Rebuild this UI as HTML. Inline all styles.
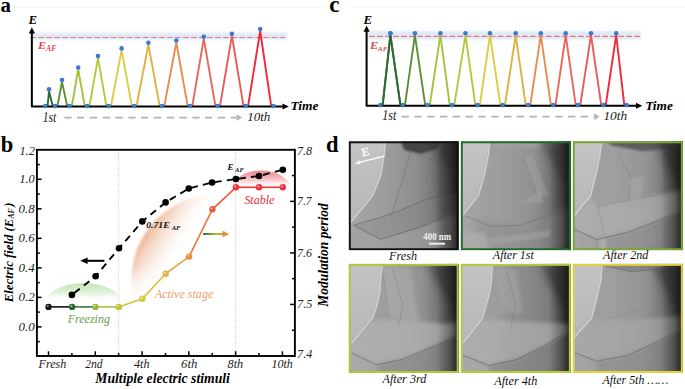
<!DOCTYPE html>
<html><head><meta charset="utf-8"><style>
html,body{margin:0;padding:0;background:#fff;width:685px;height:389px;overflow:hidden}
svg{display:block}
</style></head><body>
<svg width="685" height="389" viewBox="0 0 685 389">
<defs>
<filter id="blur1" x="-5%" y="-60%" width="110%" height="220%"><feGaussianBlur stdDeviation="1.3"/></filter>
<linearGradient id="gGreen" x1="0" y1="0" x2="0" y2="1"><stop offset="0" stop-color="#c6e3b6"/><stop offset="0.2" stop-color="#daeed0" stop-opacity="0.85"/><stop offset="0.42" stop-color="#fff" stop-opacity="0"/></linearGradient>
<linearGradient id="gRed" x1="0" y1="0" x2="0" y2="1"><stop offset="0" stop-color="#ea838c"/><stop offset="0.22" stop-color="#f2b3b8" stop-opacity="0.85"/><stop offset="0.47" stop-color="#fff" stop-opacity="0"/></linearGradient>
<linearGradient id="gOrangeL" gradientUnits="userSpaceOnUse" x1="144.2" y1="234.5" x2="182.5" y2="258.4"><stop offset="0" stop-color="#ecb597"/><stop offset="0.3" stop-color="#f2cbb3" stop-opacity="0.65"/><stop offset="0.85" stop-color="#fbeee6" stop-opacity="0"/></linearGradient>
<filter id="blOr" x="-10%" y="-10%" width="120%" height="120%"><feGaussianBlur stdDeviation="1.0"/></filter>
<linearGradient id="gOrMask" gradientUnits="userSpaceOnUse" x1="0" y1="266" x2="0" y2="306"><stop offset="0" stop-color="#fff"/><stop offset="1" stop-color="#000"/></linearGradient>
<mask id="mOr" maskUnits="userSpaceOnUse" x="100" y="150" width="250" height="220"><rect x="100" y="150" width="250" height="220" fill="url(#gOrMask)"/></mask>
<linearGradient id="gArrow" gradientUnits="userSpaceOnUse" x1="203" y1="0" x2="229" y2="0"><stop offset="0" stop-color="#2e6b34"/><stop offset="0.5" stop-color="#b8b83c"/><stop offset="1" stop-color="#e88a3a"/></linearGradient>
<linearGradient id="temR" x1="0" y1="0" x2="1" y2="0"><stop offset="0.8" stop-color="#101010" stop-opacity="0"/><stop offset="0.92" stop-color="#101010" stop-opacity="0.3"/><stop offset="1" stop-color="#101010" stop-opacity="0.75"/></linearGradient>
<linearGradient id="temBase" x1="0" y1="0" x2="1" y2="0"><stop offset="0" stop-color="#a6a6a6"/><stop offset="0.35" stop-color="#9c9c9c"/><stop offset="0.6" stop-color="#8e8e8e"/><stop offset="0.8" stop-color="#787878"/><stop offset="0.9" stop-color="#585858"/><stop offset="1" stop-color="#2a2a2a"/></linearGradient>
<linearGradient id="temL" x1="0" y1="0" x2="0" y2="1"><stop offset="0" stop-color="#c4c4c4"/><stop offset="1" stop-color="#b6b6b6"/></linearGradient>
<filter id="bl1" x="-20%" y="-20%" width="140%" height="140%"><feGaussianBlur stdDeviation="1"/></filter>
<filter id="bl2" x="-20%" y="-20%" width="140%" height="140%"><feGaussianBlur stdDeviation="2"/></filter>
<filter id="bl3" x="-30%" y="-30%" width="160%" height="160%"><feGaussianBlur stdDeviation="4"/></filter>
<filter id="bl06" x="-10%" y="-10%" width="120%" height="120%"><feGaussianBlur stdDeviation="0.6"/></filter>
<filter id="bl08" x="-10%" y="-10%" width="120%" height="120%"><feGaussianBlur stdDeviation="0.8"/></filter>
</defs>
<line x1="12" y1="7.3" x2="322" y2="7.3" stroke="#f1f1f1" stroke-width="1"/>
<line x1="351" y1="7" x2="685" y2="7" stroke="#f1f1f1" stroke-width="1"/>
<rect x="31.85" y="32.4" width="255.15" height="7.399999999999999" fill="#e2e9f6" filter="url(#blur1)"/>
<line x1="30.2" y1="37.5" x2="285" y2="37.5" stroke="#e77a7a" stroke-width="1.2" stroke-dasharray="5.8,2.24"/>
<polyline points="47.5,106.6 49,91.3 52.9,106.6" fill="none" stroke="#2e6b34" stroke-width="1.9" stroke-linejoin="miter" stroke-miterlimit="3"/>
<polyline points="57.300000000000004,106.6 62,82 67.3,106.6" fill="none" stroke="#5e8e36" stroke-width="1.9" stroke-linejoin="miter" stroke-miterlimit="3"/>
<polyline points="71.7,106.6 78.2,69.5 84.89999999999999,106.6" fill="none" stroke="#a3c23c" stroke-width="1.9" stroke-linejoin="miter" stroke-miterlimit="3"/>
<polyline points="89.3,106.6 98,58.1 106.5,106.6" fill="none" stroke="#b6c73c" stroke-width="1.9" stroke-linejoin="miter" stroke-miterlimit="3"/>
<polyline points="110.9,106.6 121.6,50.4 132.0,106.6" fill="none" stroke="#dacd44" stroke-width="1.9" stroke-linejoin="miter" stroke-miterlimit="3"/>
<polyline points="136.39999999999998,106.6 148.4,44.7 159.8,106.6" fill="none" stroke="#dfb23f" stroke-width="1.9" stroke-linejoin="miter" stroke-miterlimit="3"/>
<polyline points="164.2,106.6 176.3,42.5 187.8,106.6" fill="none" stroke="#e88c4e" stroke-width="1.9" stroke-linejoin="miter" stroke-miterlimit="3"/>
<polyline points="192.2,106.6 203.8,38.7 215.5,106.6" fill="none" stroke="#e8665a" stroke-width="1.9" stroke-linejoin="miter" stroke-miterlimit="3"/>
<polyline points="219.89999999999998,106.6 231.9,35.7 243.60000000000002,106.6" fill="none" stroke="#ea5a5c" stroke-width="1.9" stroke-linejoin="miter" stroke-miterlimit="3"/>
<polyline points="248.0,106.6 260.2,31 271.3,106.6" fill="none" stroke="#f0283a" stroke-width="1.9" stroke-linejoin="miter" stroke-miterlimit="3"/>
<path d="M31.85,32.3 L31.85,106.6 L283.8,106.6" fill="none" stroke="#000" stroke-width="2" stroke-linejoin="round"/>
<polygon points="28.75,33.5 34.95,33.5 31.85,27.3" fill="#000"/>
<polygon points="282.5,103.6 282.5,109.6 288.8,106.6" fill="#000"/>
<circle cx="49" cy="89.3" r="2.3" fill="#3a7bcc"/>
<circle cx="62" cy="80" r="2.3" fill="#3a7bcc"/>
<circle cx="78.2" cy="67.5" r="2.3" fill="#3a7bcc"/>
<circle cx="98" cy="56.1" r="2.3" fill="#3a7bcc"/>
<circle cx="121.6" cy="48.4" r="2.3" fill="#3a7bcc"/>
<circle cx="148.4" cy="42.7" r="2.3" fill="#3a7bcc"/>
<circle cx="176.3" cy="40.5" r="2.3" fill="#3a7bcc"/>
<circle cx="203.8" cy="36.7" r="2.3" fill="#3a7bcc"/>
<circle cx="231.9" cy="33.7" r="2.3" fill="#3a7bcc"/>
<circle cx="260.2" cy="29" r="2.3" fill="#3a7bcc"/>
<circle cx="45.3" cy="106.0" r="2.3" fill="#3a7bcc"/>
<circle cx="55.1" cy="106.0" r="2.3" fill="#3a7bcc"/>
<circle cx="69.5" cy="106.0" r="2.3" fill="#3a7bcc"/>
<circle cx="87.1" cy="106.0" r="2.3" fill="#3a7bcc"/>
<circle cx="108.7" cy="106.0" r="2.3" fill="#3a7bcc"/>
<circle cx="134.2" cy="106.0" r="2.3" fill="#3a7bcc"/>
<circle cx="162" cy="106.0" r="2.3" fill="#3a7bcc"/>
<circle cx="190" cy="106.0" r="2.3" fill="#3a7bcc"/>
<circle cx="217.7" cy="106.0" r="2.3" fill="#3a7bcc"/>
<circle cx="245.8" cy="106.0" r="2.3" fill="#3a7bcc"/>
<circle cx="273.5" cy="106.0" r="2.3" fill="#3a7bcc"/>
<line x1="64.2" y1="117.6" x2="239" y2="117.6" stroke="#b2b2b2" stroke-width="1.8" stroke-dasharray="7.3,5.5"/>
<polyline points="236.7,115.19999999999999 240.5,117.6 236.7,120.0" fill="none" stroke="#b2b2b2" stroke-width="1.6"/>
<rect x="366.6" y="31" width="274.4" height="8.600000000000001" fill="#e2e9f6" filter="url(#blur1)"/>
<line x1="369.0" y1="36.3" x2="640.5" y2="36.3" stroke="#e77a7a" stroke-width="1.2" stroke-dasharray="5.8,2.24"/>
<polyline points="382.59999999999997,105.7 390.4,35.2 400.5,105.7" fill="none" stroke="#2e6b34" stroke-width="1.9" stroke-linejoin="miter" stroke-miterlimit="3"/>
<polyline points="404.9,105.7 414.9,35.2 425.3,105.7" fill="none" stroke="#5e8e36" stroke-width="1.9" stroke-linejoin="miter" stroke-miterlimit="3"/>
<polyline points="429.7,105.7 440.4,35.2 449.8,105.7" fill="none" stroke="#a3c23c" stroke-width="1.9" stroke-linejoin="miter" stroke-miterlimit="3"/>
<polyline points="454.2,105.7 465.5,35.2 475.40000000000003,105.7" fill="none" stroke="#b6c73c" stroke-width="1.9" stroke-linejoin="miter" stroke-miterlimit="3"/>
<polyline points="479.8,105.7 490,35.2 500.5,105.7" fill="none" stroke="#dacd44" stroke-width="1.9" stroke-linejoin="miter" stroke-miterlimit="3"/>
<polyline points="504.9,105.7 515.7,35.2 525.8,105.7" fill="none" stroke="#dfb23f" stroke-width="1.9" stroke-linejoin="miter" stroke-miterlimit="3"/>
<polyline points="530.2,105.7 540.8,35.2 551.0,105.7" fill="none" stroke="#e88c4e" stroke-width="1.9" stroke-linejoin="miter" stroke-miterlimit="3"/>
<polyline points="555.4000000000001,105.7 565.7,35.2 575.8,105.7" fill="none" stroke="#e8665a" stroke-width="1.9" stroke-linejoin="miter" stroke-miterlimit="3"/>
<polyline points="580.2,105.7 591,35.2 601.3,105.7" fill="none" stroke="#ea5a5c" stroke-width="1.9" stroke-linejoin="miter" stroke-miterlimit="3"/>
<polyline points="605.7,105.7 616.2,35.2 624.4,105.7" fill="none" stroke="#f0283a" stroke-width="1.9" stroke-linejoin="miter" stroke-miterlimit="3"/>
<path d="M366.6,30.6 L366.6,105.7 L637.3,105.7" fill="none" stroke="#000" stroke-width="2" stroke-linejoin="round"/>
<polygon points="363.5,31.8 369.70000000000005,31.8 366.6,25.6" fill="#000"/>
<polygon points="636.0,102.7 636.0,108.7 642.3,105.7" fill="#000"/>
<circle cx="390.4" cy="33.2" r="2.3" fill="#3a7bcc"/>
<circle cx="414.9" cy="33.2" r="2.3" fill="#3a7bcc"/>
<circle cx="440.4" cy="33.2" r="2.3" fill="#3a7bcc"/>
<circle cx="465.5" cy="33.2" r="2.3" fill="#3a7bcc"/>
<circle cx="490" cy="33.2" r="2.3" fill="#3a7bcc"/>
<circle cx="515.7" cy="33.2" r="2.3" fill="#3a7bcc"/>
<circle cx="540.8" cy="33.2" r="2.3" fill="#3a7bcc"/>
<circle cx="565.7" cy="33.2" r="2.3" fill="#3a7bcc"/>
<circle cx="591" cy="33.2" r="2.3" fill="#3a7bcc"/>
<circle cx="616.2" cy="33.2" r="2.3" fill="#3a7bcc"/>
<circle cx="380.4" cy="105.10000000000001" r="2.3" fill="#3a7bcc"/>
<circle cx="402.7" cy="105.10000000000001" r="2.3" fill="#3a7bcc"/>
<circle cx="427.5" cy="105.10000000000001" r="2.3" fill="#3a7bcc"/>
<circle cx="452" cy="105.10000000000001" r="2.3" fill="#3a7bcc"/>
<circle cx="477.6" cy="105.10000000000001" r="2.3" fill="#3a7bcc"/>
<circle cx="502.7" cy="105.10000000000001" r="2.3" fill="#3a7bcc"/>
<circle cx="528" cy="105.10000000000001" r="2.3" fill="#3a7bcc"/>
<circle cx="553.2" cy="105.10000000000001" r="2.3" fill="#3a7bcc"/>
<circle cx="578" cy="105.10000000000001" r="2.3" fill="#3a7bcc"/>
<circle cx="603.5" cy="105.10000000000001" r="2.3" fill="#3a7bcc"/>
<circle cx="626.6" cy="105.10000000000001" r="2.3" fill="#3a7bcc"/>
<line x1="401.6" y1="116.7" x2="596.5" y2="116.7" stroke="#b2b2b2" stroke-width="1.8" stroke-dasharray="7.3,5.5"/>
<polyline points="594.2,114.3 598.0,116.7 594.2,119.10000000000001" fill="none" stroke="#b2b2b2" stroke-width="1.6"/>
<ellipse cx="83.5" cy="306" rx="40" ry="23" fill="url(#gGreen)"/>
<g mask="url(#mOr)"><circle cx="216.9" cy="279.8" r="85.5" fill="url(#gOrangeL)" filter="url(#blOr)"/></g>
<ellipse cx="261" cy="190" rx="30" ry="19.6" fill="url(#gRed)"/>
<line x1="118.67" y1="149.8" x2="118.67" y2="356.0" stroke="#bdbdbd" stroke-width="0.8" stroke-dasharray="1,1.3"/>
<line x1="235.62" y1="149.8" x2="235.62" y2="356.0" stroke="#bdbdbd" stroke-width="0.8" stroke-dasharray="1,1.3"/>
<rect x="36.9" y="149.8" width="258.0" height="206.2" fill="none" stroke="#000" stroke-width="1.9"/>
<line x1="36.9" y1="341.66" x2="39.80" y2="341.66" stroke="#000" stroke-width="1.5"/>
<line x1="36.9" y1="326.90" x2="41.60" y2="326.90" stroke="#000" stroke-width="1.5"/>
<line x1="36.9" y1="312.14" x2="39.80" y2="312.14" stroke="#000" stroke-width="1.5"/>
<line x1="36.9" y1="297.38" x2="41.60" y2="297.38" stroke="#000" stroke-width="1.5"/>
<line x1="36.9" y1="282.62" x2="39.80" y2="282.62" stroke="#000" stroke-width="1.5"/>
<line x1="36.9" y1="267.86" x2="41.60" y2="267.86" stroke="#000" stroke-width="1.5"/>
<line x1="36.9" y1="253.10" x2="39.80" y2="253.10" stroke="#000" stroke-width="1.5"/>
<line x1="36.9" y1="238.34" x2="41.60" y2="238.34" stroke="#000" stroke-width="1.5"/>
<line x1="36.9" y1="223.58" x2="39.80" y2="223.58" stroke="#000" stroke-width="1.5"/>
<line x1="36.9" y1="208.82" x2="41.60" y2="208.82" stroke="#000" stroke-width="1.5"/>
<line x1="36.9" y1="194.06" x2="39.80" y2="194.06" stroke="#000" stroke-width="1.5"/>
<line x1="36.9" y1="179.30" x2="41.60" y2="179.30" stroke="#000" stroke-width="1.5"/>
<line x1="36.9" y1="164.54" x2="39.80" y2="164.54" stroke="#000" stroke-width="1.5"/>
<line x1="294.9" y1="175.57" x2="292.00" y2="175.57" stroke="#000" stroke-width="1.5"/>
<line x1="294.9" y1="201.35" x2="290.20" y2="201.35" stroke="#000" stroke-width="1.5"/>
<line x1="294.9" y1="227.13" x2="292.00" y2="227.13" stroke="#000" stroke-width="1.5"/>
<line x1="294.9" y1="252.90" x2="290.20" y2="252.90" stroke="#000" stroke-width="1.5"/>
<line x1="294.9" y1="278.68" x2="292.00" y2="278.68" stroke="#000" stroke-width="1.5"/>
<line x1="294.9" y1="304.45" x2="290.20" y2="304.45" stroke="#000" stroke-width="1.5"/>
<line x1="294.9" y1="330.22" x2="292.00" y2="330.22" stroke="#000" stroke-width="1.5"/>
<line x1="48.50" y1="356.0" x2="48.50" y2="351.30" stroke="#000" stroke-width="1.5"/>
<line x1="71.89" y1="356.0" x2="71.89" y2="353.10" stroke="#000" stroke-width="1.5"/>
<line x1="95.28" y1="356.0" x2="95.28" y2="351.30" stroke="#000" stroke-width="1.5"/>
<line x1="118.67" y1="356.0" x2="118.67" y2="353.10" stroke="#000" stroke-width="1.5"/>
<line x1="142.06" y1="356.0" x2="142.06" y2="351.30" stroke="#000" stroke-width="1.5"/>
<line x1="165.45" y1="356.0" x2="165.45" y2="353.10" stroke="#000" stroke-width="1.5"/>
<line x1="188.84" y1="356.0" x2="188.84" y2="351.30" stroke="#000" stroke-width="1.5"/>
<line x1="212.23" y1="356.0" x2="212.23" y2="353.10" stroke="#000" stroke-width="1.5"/>
<line x1="235.62" y1="356.0" x2="235.62" y2="351.30" stroke="#000" stroke-width="1.5"/>
<line x1="259.01" y1="356.0" x2="259.01" y2="353.10" stroke="#000" stroke-width="1.5"/>
<line x1="282.40" y1="356.0" x2="282.40" y2="351.30" stroke="#000" stroke-width="1.5"/>
<line x1="86" y1="260.8" x2="104.4" y2="260.8" stroke="#000" stroke-width="2"/>
<polygon points="80.2,260.8 87.6,257.6 87.6,264.0" fill="#000"/>
<line x1="203.2" y1="234.0" x2="224" y2="234.0" stroke="url(#gArrow)" stroke-width="2"/>
<polygon points="229.2,234.0 222.5,230.8 222.5,237.2" fill="#e88a3a"/>
<polyline points="71.9,294.9 95.6,276.3 119.0,248.3 142.3,221.4 165.6,202.4 188.8,188.5 212.1,182.5 235.9,179.0 259.0,176.0 282.8,169.7" fill="none" stroke="#000" stroke-width="1.9" stroke-dasharray="7,5.2" stroke-dashoffset="-3"/>
<circle cx="71.9" cy="294.9" r="3.3" fill="#000"/>
<circle cx="95.6" cy="276.3" r="3.3" fill="#000"/>
<circle cx="119.0" cy="248.3" r="3.3" fill="#000"/>
<circle cx="142.3" cy="221.4" r="3.3" fill="#000"/>
<circle cx="165.6" cy="202.4" r="3.3" fill="#000"/>
<circle cx="188.8" cy="188.5" r="3.3" fill="#000"/>
<circle cx="212.1" cy="182.5" r="3.3" fill="#000"/>
<circle cx="235.9" cy="179.0" r="3.3" fill="#000"/>
<circle cx="259.0" cy="176.0" r="3.3" fill="#000"/>
<circle cx="282.8" cy="169.7" r="3.3" fill="#000"/>
<line x1="48.5" y1="306.9" x2="72.1" y2="306.9" stroke="#111111" stroke-width="1.6"/>
<line x1="72.1" y1="306.9" x2="95.4" y2="306.9" stroke="#357a38" stroke-width="1.6"/>
<line x1="95.4" y1="306.9" x2="118.8" y2="306.9" stroke="#a8c040" stroke-width="1.6"/>
<line x1="118.8" y1="306.9" x2="142.4" y2="298.7" stroke="#cec83c" stroke-width="1.6"/>
<line x1="142.4" y1="298.7" x2="165.7" y2="273.7" stroke="#dcbc3c" stroke-width="1.6"/>
<line x1="165.7" y1="273.7" x2="189.1" y2="256.6" stroke="#e2a03e" stroke-width="1.6"/>
<line x1="189.1" y1="256.6" x2="212.4" y2="209.3" stroke="#e87838" stroke-width="1.6"/>
<line x1="212.4" y1="209.3" x2="235.9" y2="187.3" stroke="#ec5a3c" stroke-width="1.6"/>
<line x1="235.9" y1="187.3" x2="259.0" y2="187.3" stroke="#f03a42" stroke-width="1.6"/>
<line x1="259.0" y1="187.3" x2="282.8" y2="187.3" stroke="#f03a42" stroke-width="1.6"/>
<circle cx="48.5" cy="306.9" r="3.2" fill="#111111"/>
<circle cx="47.7" cy="306.0" r="1.1" fill="#fff" opacity="0.55"/>
<circle cx="72.1" cy="306.9" r="3.2" fill="#2a6a30"/>
<circle cx="71.3" cy="306.0" r="1.1" fill="#fff" opacity="0.55"/>
<circle cx="95.4" cy="306.9" r="3.2" fill="#94b83a"/>
<circle cx="94.60000000000001" cy="306.0" r="1.1" fill="#fff" opacity="0.55"/>
<circle cx="118.8" cy="306.9" r="3.2" fill="#bcc63a"/>
<circle cx="118.0" cy="306.0" r="1.1" fill="#fff" opacity="0.55"/>
<circle cx="142.4" cy="298.7" r="3.2" fill="#d6c83c"/>
<circle cx="141.6" cy="297.8" r="1.1" fill="#fff" opacity="0.55"/>
<circle cx="165.7" cy="273.7" r="3.2" fill="#e0b640"/>
<circle cx="164.89999999999998" cy="272.8" r="1.1" fill="#fff" opacity="0.55"/>
<circle cx="189.1" cy="256.6" r="3.2" fill="#e88a3a"/>
<circle cx="188.29999999999998" cy="255.70000000000002" r="1.1" fill="#fff" opacity="0.55"/>
<circle cx="212.4" cy="209.3" r="3.2" fill="#ea5a40"/>
<circle cx="211.6" cy="208.4" r="1.1" fill="#fff" opacity="0.55"/>
<circle cx="235.9" cy="187.3" r="3.2" fill="#f0303c"/>
<circle cx="235.1" cy="186.4" r="1.1" fill="#fff" opacity="0.55"/>
<circle cx="259.0" cy="187.3" r="3.2" fill="#f0303c"/>
<circle cx="258.2" cy="186.4" r="1.1" fill="#fff" opacity="0.55"/>
<circle cx="282.8" cy="187.3" r="3.2" fill="#f0303c"/>
<circle cx="282.0" cy="186.4" r="1.1" fill="#fff" opacity="0.55"/>
<text x="0.8" y="152.3" style="font-family:'Liberation Serif',serif;font-weight:bold;font-size:22.5px">b</text>
<svg x="348.7" y="141.2" width="110.0" height="109.1" viewBox="0 0 110.0 109.1" overflow="hidden">
<rect x="0" y="0" width="110.0" height="109.1" fill="url(#temBase)"/>
<polygon points="5,84 30,77 52,69 81,57 110,52 110,70 71,86 32,98" fill="#828282" opacity="0.3" filter="url(#bl1)"/>
<polygon points="30,98 71,86 110,70 110,109 0,109 0,100" fill="#a0a0a0" opacity="0.6" filter="url(#bl2)"/>
<polygon points="0,92 25,96 35,109 0,109" fill="#a2a2a2" opacity="0.7" filter="url(#bl2)"/>
<polygon points="52,0 92,0 88,8 72,12.5 56,9" fill="#3c3c3c" opacity="0.9" filter="url(#bl1)"/>
<polygon points="88,0 110,0 110,40 95,20" fill="#2a2a2a" opacity="0.6" filter="url(#bl3)"/>
<polygon points="85,0 110,0 110,109 90,109" fill="#303030" opacity="0.35" filter="url(#bl3)"/>
<polyline points="62,10 56.7,28.8 47.5,59.6 42,76" fill="none" stroke="#666" stroke-width="0.6" opacity="0.7"/>
<polyline points="72,12.5 95,25 110,35" fill="none" stroke="#666" stroke-width="0.6" opacity="0.6"/>
<polyline points="5,84 30,77 52,69 81,57 110,52" fill="none" stroke="#5c5c5c" stroke-width="0.7" opacity="0.8"/>
<polyline points="5.6,84.3 32,98 71,86 110,70" fill="none" stroke="#555" stroke-width="0.7" opacity="0.8"/>
<polygon points="0,0 36.8,0 35.4,13.9 31.8,35.2 24,54 13,68 2.2,81 0,83" fill="url(#temL)" filter="url(#bl08)"/>
<polyline points="36.8,0 35.4,13.9 31.8,35.2 24,54 13,68 2.2,81 0,83" fill="none" stroke="#dcdcdc" stroke-width="1.2" opacity="0.85" filter="url(#bl06)"/>
<rect x="0" y="0" width="110.0" height="109.1" fill="url(#temR)"/>
<rect x="1" y="1" width="108.0" height="107.1" fill="none" stroke="#111111" stroke-width="2.1"/>
</svg>
<svg x="460.7" y="141.2" width="110.2" height="109.1" viewBox="0 0 110.2 109.1" overflow="hidden">
<rect x="0" y="0" width="110.2" height="109.1" fill="url(#temBase)"/>
<polygon points="30,0 80,0 80,109 30,109" fill="#a2a2a2" opacity="0.35" filter="url(#bl3)"/>
<polygon points="30,0 82,0 78,7 34,6" fill="#a4a4a4" opacity="0.6" filter="url(#bl1)"/>
<polygon points="80,0 110,0 110,50 92,22" fill="#262626" opacity="0.45" filter="url(#bl3)"/>
<polygon points="62.8,15.6 72.7,12.7 88.3,55 76.9,55" fill="#a8a8a8" opacity="0.4" filter="url(#bl1)"/>
<polygon points="62,60 80,50 82,62" fill="#b0b0b0" opacity="0.35" filter="url(#bl1)"/>
<polygon points="15,80 60,84 100,70 110,65 110,109 20,109" fill="#888888" opacity="0.45" filter="url(#bl3)"/>
<polygon points="0,90 25,92 30,109 0,109" fill="#b0b0b0" opacity="0.7" filter="url(#bl2)"/>
<polygon points="28,97 70,92 90,88 88,96 30,104" fill="#b2b2b2" opacity="0.35" filter="url(#bl1)"/>
<polyline points="5,75 30,85 60,84 105,68" fill="none" stroke="#666" stroke-width="0.6" opacity="0.7"/>
<polyline points="62.8,15.6 76.9,55" fill="none" stroke="#707070" stroke-width="0.5" opacity="0.6"/>
<polyline points="72.7,12.7 88.3,55" fill="none" stroke="#707070" stroke-width="0.5" opacity="0.6"/>
<polygon points="0,0 29,0 27.6,13.8 23.3,35.2 17.6,54.3 10,64 3.2,72.5 0,75" fill="url(#temL)" filter="url(#bl08)"/>
<polyline points="29,0 27.6,13.8 23.3,35.2 17.6,54.3 10,64 3.2,72.5 0,75" fill="none" stroke="#dcdcdc" stroke-width="1.2" opacity="0.85" filter="url(#bl06)"/>
<rect x="0" y="0" width="110.2" height="109.1" fill="url(#temR)"/>
<rect x="1" y="1" width="108.2" height="107.1" fill="none" stroke="#226a2c" stroke-width="2.1"/>
</svg>
<svg x="572.7" y="141.2" width="110.2" height="109.1" viewBox="0 0 110.2 109.1" overflow="hidden">
<rect x="0" y="0" width="110.2" height="109.1" fill="url(#temBase)"/>
<polygon points="30,0 85,0 85,109 30,109" fill="#a8a8a8" opacity="0.35" filter="url(#bl3)"/>
<polygon points="35,0 110,0 110,6 70,10 38,4" fill="#505050" opacity="0.8" filter="url(#bl1)"/>
<polygon points="85,0 110,0 110,50 95,25" fill="#282828" opacity="0.6" filter="url(#bl3)"/>
<polygon points="55,38 72,35 68,58 58,60" fill="#b4b4b4" opacity="0.35" filter="url(#bl1)"/>
<polygon points="2.3,74 8,66 17.7,56 25,65 60,58 101,50.6 110,48 110,72 55.3,91.2 23.8,98.4 2.2,88.3" fill="#b4b4b4" opacity="0.55" filter="url(#bl2)"/>
<polygon points="23.8,98.4 55.3,91.2 110,72 110,109 20,109" fill="#8c8c8c" opacity="0.45" filter="url(#bl2)"/>
<polygon points="0,89 23,98 26,109 0,109" fill="#a4a4a4" opacity="0.6" filter="url(#bl2)"/>
<polygon points="26,98 33,96 34,109 26,109" fill="#c0c0c0" opacity="0.5" filter="url(#bl1)"/>
<polyline points="25,65 60,58 101,50.6" fill="none" stroke="#6a6a6a" stroke-width="0.5" opacity="0.6"/>
<polyline points="2.2,88.3 23.8,98.4 55.3,91.2 110,70" fill="none" stroke="#5e5e5e" stroke-width="0.7" opacity="0.8"/>
<polyline points="25,65 32,96" fill="none" stroke="#777" stroke-width="0.5" opacity="0.6"/>
<polyline points="45,12 58,35 56,60" fill="none" stroke="#6a6a6a" stroke-width="0.5" opacity="0.6"/>
<polygon points="0,0 29,0 27,15 24,30 17.7,55 8,66 2.3,74 0,76" fill="url(#temL)" filter="url(#bl08)"/>
<polyline points="29,0 27,15 24,30 17.7,55 8,66 2.3,74 0,76" fill="none" stroke="#dcdcdc" stroke-width="1.2" opacity="0.85" filter="url(#bl06)"/>
<rect x="0" y="0" width="110.2" height="109.1" fill="url(#temR)"/>
<rect x="1" y="1" width="108.2" height="107.1" fill="none" stroke="#78a834" stroke-width="2.1"/>
</svg>
<svg x="348.7" y="263.8" width="110.0" height="109.2" viewBox="0 0 110.0 109.2" overflow="hidden">
<rect x="0" y="0" width="110.0" height="109.2" fill="url(#temBase)"/>
<polygon points="30,0 80,0 80,109 30,109" fill="#a4a4a4" opacity="0.35" filter="url(#bl3)"/>
<polygon points="33,2 62,4 70,58 40,52" fill="#b0b0b0" opacity="0.55" filter="url(#bl2)"/>
<polygon points="80,0 110,0 110,50 92,25" fill="#2a2a2a" opacity="0.65" filter="url(#bl3)"/>
<polygon points="0,80 3.6,78.7 14,66 24,56 60,56 95,60 110,58 110,72 55.3,95.2 28.1,101 3.6,89.5" fill="#b4b4b4" opacity="0.7" filter="url(#bl2)"/>
<polygon points="28.1,101 55.3,95.2 110,72 110,109 25,109" fill="#888888" opacity="0.5" filter="url(#bl2)"/>
<polygon points="0,90 28,101 30,109 0,109" fill="#acacac" opacity="0.6" filter="url(#bl2)"/>
<polyline points="3.6,89.5 28.1,101 55.3,95.2 110,72" fill="none" stroke="#5e5e5e" stroke-width="0.7" opacity="0.8"/>
<polyline points="44,5 54,40 50,62" fill="none" stroke="#6a6a6a" stroke-width="0.5" opacity="0.6"/>
<polyline points="33,2 40,52" fill="none" stroke="#777" stroke-width="0.5" opacity="0.6"/>
<polygon points="0,0 33.5,0 32,14 31,28 28,42 24,54 14,66 3.6,78.7 0,80" fill="url(#temL)" filter="url(#bl08)"/>
<polyline points="33.5,0 32,14 31,28 28,42 24,54 14,66 3.6,78.7 0,80" fill="none" stroke="#dcdcdc" stroke-width="1.2" opacity="0.85" filter="url(#bl06)"/>
<rect x="0" y="0" width="110.0" height="109.2" fill="url(#temR)"/>
<rect x="1" y="1" width="108.0" height="107.2" fill="none" stroke="#b0c63a" stroke-width="2.1"/>
</svg>
<svg x="460.7" y="263.8" width="110.2" height="109.2" viewBox="0 0 110.2 109.2" overflow="hidden">
<rect x="0" y="0" width="110.2" height="109.2" fill="url(#temBase)"/>
<polygon points="45,0 95,0 95,109 45,109" fill="#858585" opacity="0.35" filter="url(#bl3)"/>
<polygon points="34,4 56,6 62,50 40,48" fill="#a8a8a8" opacity="0.5" filter="url(#bl2)"/>
<polygon points="80,0 110,0 110,55 92,25" fill="#2a2a2a" opacity="0.65" filter="url(#bl3)"/>
<polygon points="0,80 2.2,78.7 12,67 21.6,56 60,58 110,60 110,70 83,83 55.3,96 28.1,101.7 2.2,91.6" fill="#b2b2b2" opacity="0.65" filter="url(#bl2)"/>
<polygon points="28.1,101.7 55.3,96 83,83 110,70 110,109 25,109" fill="#828282" opacity="0.5" filter="url(#bl2)"/>
<polygon points="0,92 28,102 30,109 0,109" fill="#aaaaaa" opacity="0.6" filter="url(#bl2)"/>
<polyline points="2.2,91.6 28.1,101.7 55.3,96 83,83 103,70" fill="none" stroke="#5a5a5a" stroke-width="0.7" opacity="0.8"/>
<polyline points="46,8 55,40 50,65" fill="none" stroke="#6a6a6a" stroke-width="0.5" opacity="0.6"/>
<polygon points="0,0 31.7,0 31,10 30.2,20.8 28,32 25.2,42.4 21.6,54.7 12,67 2.2,78.7 0,80" fill="url(#temL)" filter="url(#bl08)"/>
<polyline points="31.7,0 31,10 30.2,20.8 28,32 25.2,42.4 21.6,54.7 12,67 2.2,78.7 0,80" fill="none" stroke="#dcdcdc" stroke-width="1.2" opacity="0.85" filter="url(#bl06)"/>
<rect x="0" y="0" width="110.2" height="109.2" fill="url(#temR)"/>
<rect x="1" y="1" width="108.2" height="107.2" fill="none" stroke="#b6ca3c" stroke-width="2.1"/>
</svg>
<svg x="572.7" y="263.8" width="110.2" height="109.2" viewBox="0 0 110.2 109.2" overflow="hidden">
<rect x="0" y="0" width="110.2" height="109.2" fill="url(#temBase)"/>
<polygon points="30,0 80,0 80,109 30,109" fill="#a4a4a4" opacity="0.4" filter="url(#bl3)"/>
<polygon points="80,0 110,0 110,60 95,30" fill="#2a2a2a" opacity="0.65" filter="url(#bl3)"/>
<polygon points="32,2 60,8 90,4 90,0 32,0" fill="#7a7a7a" opacity="0.6" filter="url(#bl1)"/>
<polygon points="0,74 2.2,72.9 10,64 18.7,56 60,56 110,52 110,68 55.3,91.6 23.8,97.4 2.2,88.7" fill="#acacac" opacity="0.55" filter="url(#bl2)"/>
<polygon points="23.8,97.4 55.3,91.6 110,68 110,109 20,109" fill="#888888" opacity="0.5" filter="url(#bl2)"/>
<polygon points="0,89 24,97 26,109 0,109" fill="#a2a2a2" opacity="0.6" filter="url(#bl2)"/>
<polyline points="2.2,88.7 23.8,97.4 55.3,91.6 110,66" fill="none" stroke="#5e5e5e" stroke-width="0.7" opacity="0.8"/>
<polyline points="32,2 60,8 90,4" fill="none" stroke="#555" stroke-width="0.6" opacity="0.7"/>
<polyline points="35,55 70,45 100,30" fill="none" stroke="#777" stroke-width="0.5" opacity="0.5"/>
<polygon points="0,0 29.5,0 28.1,16.5 23.8,35.2 18.7,54.7 10,64 2.2,72.9 0,74" fill="url(#temL)" filter="url(#bl08)"/>
<polyline points="29.5,0 28.1,16.5 23.8,35.2 18.7,54.7 10,64 2.2,72.9 0,74" fill="none" stroke="#dcdcdc" stroke-width="1.2" opacity="0.85" filter="url(#bl06)"/>
<rect x="0" y="0" width="110.2" height="109.2" fill="url(#temR)"/>
<rect x="1" y="1" width="108.2" height="107.2" fill="none" stroke="#e2d23c" stroke-width="2.1"/>
</svg>
<g fill="#fff" stroke="none">
<text transform="translate(362.4,156.5) rotate(-14)" style="font-family:'Liberation Serif',serif;font-weight:bold;font-size:11.5px" fill="#f8f8f8" stroke="#f8f8f8" stroke-width="0.3">E</text>
<line x1="384.5" y1="156.1" x2="358" y2="162.8" stroke="#f6f6f6" stroke-width="1.5"/>
<polygon points="354.3,163.7 359.6,160.2 360.5,164.3" fill="#f4f4f4"/>
<text x="423.3" y="240.4" textLength="27.8" lengthAdjust="spacingAndGlyphs" style="font-family:'Liberation Serif',serif;font-weight:bold;font-size:9.6px" fill="#f0f0f0">400 nm</text>
<rect x="428.9" y="242.7" width="16.1" height="2" fill="#ececec"/>
</g>
<text x="326" y="152.1" style="font-family:'Liberation Serif',serif;font-weight:bold;font-size:22.5px">d</text>
<text x="0.62" y="12.14" fill="#000" textLength="10.43" lengthAdjust="spacingAndGlyphs" style="font-family:'Liberation Serif',serif;font-weight:bold;font-style:normal;font-size:21.04px">a</text>
<text x="28.48" y="24.32" fill="#000" textLength="8.65" lengthAdjust="spacingAndGlyphs" style="font-family:'Liberation Serif',serif;font-weight:bold;font-style:italic;font-size:12.58px">E</text>
<text x="37.97" y="49.14" fill="#e8474a" textLength="8.02" lengthAdjust="spacingAndGlyphs" style="font-family:'Liberation Serif',serif;font-weight:bold;font-style:italic;font-size:11.36px">E</text>
<text x="46.12" y="51.48" fill="#e8474a" textLength="10.39" lengthAdjust="spacingAndGlyphs" style="font-family:'Liberation Serif',serif;font-weight:bold;font-style:italic;font-size:7.16px">AF</text>
<text x="290.40" y="110.32" fill="#000" textLength="28.03" lengthAdjust="spacingAndGlyphs" style="font-family:'Liberation Serif',serif;font-weight:bold;font-style:italic;font-size:13.00px">Time</text>
<text x="42.70" y="121.71" fill="#1a1a1a" textLength="13.59" lengthAdjust="spacingAndGlyphs" style="font-family:'Liberation Serif',serif;font-weight:normal;font-style:italic;font-size:13.73px">1st</text>
<text x="247.16" y="121.30" fill="#1a1a1a" textLength="23.11" lengthAdjust="spacingAndGlyphs" style="font-family:'Liberation Serif',serif;font-weight:normal;font-style:italic;font-size:12.39px">10th</text>
<text x="329.26" y="12.13" fill="#000" textLength="10.24" lengthAdjust="spacingAndGlyphs" style="font-family:'Liberation Serif',serif;font-weight:bold;font-style:normal;font-size:22.29px">c</text>
<text x="363.58" y="24.02" fill="#000" textLength="8.65" lengthAdjust="spacingAndGlyphs" style="font-family:'Liberation Serif',serif;font-weight:bold;font-style:italic;font-size:13.33px">E</text>
<text x="370.08" y="48.84" fill="#e8474a" textLength="8.34" lengthAdjust="spacingAndGlyphs" style="font-family:'Liberation Serif',serif;font-weight:bold;font-style:italic;font-size:11.06px">E</text>
<text x="377.80" y="51.08" fill="#e8474a" textLength="9.91" lengthAdjust="spacingAndGlyphs" style="font-family:'Liberation Serif',serif;font-weight:bold;font-style:italic;font-size:6.57px">AF</text>
<text x="645.22" y="109.92" fill="#000" textLength="27.62" lengthAdjust="spacingAndGlyphs" style="font-family:'Liberation Serif',serif;font-weight:bold;font-style:italic;font-size:13.43px">Time</text>
<text x="382.29" y="120.21" fill="#1a1a1a" textLength="13.99" lengthAdjust="spacingAndGlyphs" style="font-family:'Liberation Serif',serif;font-weight:normal;font-style:italic;font-size:13.73px">1st</text>
<text x="603.45" y="120.40" fill="#1a1a1a" textLength="23.73" lengthAdjust="spacingAndGlyphs" style="font-family:'Liberation Serif',serif;font-weight:normal;font-style:italic;font-size:12.39px">10th</text>
<text x="146.26" y="227.57" fill="#111" textLength="23.45" lengthAdjust="spacingAndGlyphs" style="font-family:'Liberation Serif',serif;font-weight:bold;font-style:italic;font-size:9.12px">0.71E</text>
<text x="171.65" y="229.99" fill="#111" textLength="8.94" lengthAdjust="spacingAndGlyphs" style="font-family:'Liberation Serif',serif;font-weight:bold;font-style:italic;font-size:5.82px">AF</text>
<text x="227.64" y="169.96" fill="#111" textLength="6.15" lengthAdjust="spacingAndGlyphs" style="font-family:'Liberation Serif',serif;font-weight:bold;font-style:italic;font-size:8.94px">E</text>
<text x="235.05" y="171.90" fill="#111" textLength="8.85" lengthAdjust="spacingAndGlyphs" style="font-family:'Liberation Serif',serif;font-weight:bold;font-style:italic;font-size:5.07px">AF</text>
<text x="19.43" y="155.18" fill="#222" textLength="15.42" lengthAdjust="spacingAndGlyphs" style="font-family:'Liberation Serif',serif;font-weight:normal;font-style:italic;font-size:11.5px">1.2</text>
<text x="19.43" y="183.20" fill="#222" textLength="15.29" lengthAdjust="spacingAndGlyphs" style="font-family:'Liberation Serif',serif;font-weight:normal;font-style:italic;font-size:11.5px">1.0</text>
<text x="18.61" y="212.72" fill="#222" textLength="16.12" lengthAdjust="spacingAndGlyphs" style="font-family:'Liberation Serif',serif;font-weight:normal;font-style:italic;font-size:11.5px">0.8</text>
<text x="18.62" y="242.24" fill="#222" textLength="15.98" lengthAdjust="spacingAndGlyphs" style="font-family:'Liberation Serif',serif;font-weight:normal;font-style:italic;font-size:11.5px">0.6</text>
<text x="18.61" y="271.76" fill="#222" textLength="16.25" lengthAdjust="spacingAndGlyphs" style="font-family:'Liberation Serif',serif;font-weight:normal;font-style:italic;font-size:11.5px">0.4</text>
<text x="18.61" y="301.28" fill="#222" textLength="16.25" lengthAdjust="spacingAndGlyphs" style="font-family:'Liberation Serif',serif;font-weight:normal;font-style:italic;font-size:11.5px">0.2</text>
<text x="18.61" y="330.80" fill="#222" textLength="16.12" lengthAdjust="spacingAndGlyphs" style="font-family:'Liberation Serif',serif;font-weight:normal;font-style:italic;font-size:11.5px">0.0</text>
<text x="297.10" y="155.00" fill="#222" textLength="15.02" lengthAdjust="spacingAndGlyphs" style="font-family:'Liberation Serif',serif;font-weight:normal;font-style:italic;font-size:11.5px">7.8</text>
<text x="297.12" y="205.25" fill="#222" textLength="14.42" lengthAdjust="spacingAndGlyphs" style="font-family:'Liberation Serif',serif;font-weight:normal;font-style:italic;font-size:11.5px">7.7</text>
<text x="297.10" y="256.80" fill="#222" textLength="14.90" lengthAdjust="spacingAndGlyphs" style="font-family:'Liberation Serif',serif;font-weight:normal;font-style:italic;font-size:11.5px">7.6</text>
<text x="297.09" y="308.35" fill="#222" textLength="15.15" lengthAdjust="spacingAndGlyphs" style="font-family:'Liberation Serif',serif;font-weight:normal;font-style:italic;font-size:11.5px">7.5</text>
<text x="297.09" y="358.40" fill="#222" textLength="15.15" lengthAdjust="spacingAndGlyphs" style="font-family:'Liberation Serif',serif;font-weight:normal;font-style:italic;font-size:11.5px">7.4</text>
<text x="38.62" y="367.60" fill="#222" textLength="27.66" lengthAdjust="spacingAndGlyphs" style="font-family:'Liberation Serif',serif;font-weight:normal;font-style:italic;font-size:11.8px">Fresh</text>
<text x="85.20" y="367.60" fill="#222" textLength="17.38" lengthAdjust="spacingAndGlyphs" style="font-family:'Liberation Serif',serif;font-weight:normal;font-style:italic;font-size:11.8px">2nd</text>
<text x="134.00" y="367.60" fill="#222" textLength="15.59" lengthAdjust="spacingAndGlyphs" style="font-family:'Liberation Serif',serif;font-weight:normal;font-style:italic;font-size:11.8px">4th</text>
<text x="181.09" y="367.60" fill="#222" textLength="16.22" lengthAdjust="spacingAndGlyphs" style="font-family:'Liberation Serif',serif;font-weight:normal;font-style:italic;font-size:11.8px">6th</text>
<text x="227.56" y="367.60" fill="#222" textLength="15.63" lengthAdjust="spacingAndGlyphs" style="font-family:'Liberation Serif',serif;font-weight:normal;font-style:italic;font-size:11.8px">8th</text>
<text x="271.54" y="367.60" fill="#222" textLength="21.34" lengthAdjust="spacingAndGlyphs" style="font-family:'Liberation Serif',serif;font-weight:normal;font-style:italic;font-size:11.8px">10th</text>
<text x="95.27" y="383.30" fill="#000" textLength="134.60" lengthAdjust="spacingAndGlyphs" style="font-family:'Liberation Serif',serif;font-weight:bold;font-style:italic;font-size:13.7px">Multiple electric stimuli</text>
<text transform="translate(327.80,306.73) rotate(-90)" fill="#000" textLength="103.46" lengthAdjust="spacingAndGlyphs" style="font-family:'Liberation Serif',serif;font-weight:bold;font-style:italic;font-size:13.7px">Modulation period</text>
<text transform="translate(12.70,302.17) rotate(-90)" fill="#000" textLength="83.44" lengthAdjust="spacingAndGlyphs" style="font-family:'Liberation Serif',serif;font-weight:bold;font-style:italic;font-size:13.4px">Electric field (E</text>
<text transform="translate(14.30,218.55) rotate(-90)" fill="#000" textLength="10.10" lengthAdjust="spacingAndGlyphs" style="font-family:'Liberation Serif',serif;font-weight:bold;font-style:italic;font-size:8.2px">AF</text>
<text transform="translate(12.70,206.79) rotate(-90)" fill="#000" textLength="4.19" lengthAdjust="spacingAndGlyphs" style="font-family:'Liberation Serif',serif;font-weight:bold;font-style:italic;font-size:13.4px">)</text>
<text x="67.72" y="322.60" fill="#6a9e4a" textLength="42.22" lengthAdjust="spacingAndGlyphs" style="font-family:'Liberation Serif',serif;font-weight:normal;font-style:italic;font-size:12.3px">Freezing</text>
<text x="154.72" y="297.60" fill="#e8a070" textLength="58.54" lengthAdjust="spacingAndGlyphs" style="font-family:'Liberation Serif',serif;font-weight:normal;font-style:italic;font-size:12.3px">Active stage</text>
<text x="244.38" y="203.60" fill="#e0303c" textLength="29.99" lengthAdjust="spacingAndGlyphs" style="font-family:'Liberation Serif',serif;font-weight:normal;font-style:italic;font-size:12.3px">Stable</text>
<text x="389.12" y="259.50" fill="#111" textLength="27.86" lengthAdjust="spacingAndGlyphs" style="font-family:'Liberation Serif',serif;font-weight:normal;font-style:italic;font-size:12.0px">Fresh</text>
<text x="492.82" y="259.30" fill="#111" textLength="41.01" lengthAdjust="spacingAndGlyphs" style="font-family:'Liberation Serif',serif;font-weight:normal;font-style:italic;font-size:12.0px">After 1st</text>
<text x="603.12" y="259.30" fill="#111" textLength="45.16" lengthAdjust="spacingAndGlyphs" style="font-family:'Liberation Serif',serif;font-weight:normal;font-style:italic;font-size:12.0px">After 2nd</text>
<text x="382.53" y="383.30" fill="#111" textLength="43.85" lengthAdjust="spacingAndGlyphs" style="font-family:'Liberation Serif',serif;font-weight:normal;font-style:italic;font-size:12.0px">After 3rd</text>
<text x="494.23" y="384.50" fill="#111" textLength="43.06" lengthAdjust="spacingAndGlyphs" style="font-family:'Liberation Serif',serif;font-weight:normal;font-style:italic;font-size:12.0px">After 4th</text>
<text x="602.51" y="383.80" fill="#111" textLength="65.89" lengthAdjust="spacingAndGlyphs" style="font-family:'Liberation Serif',serif;font-weight:normal;font-style:italic;font-size:12.0px">After 5th ……</text>
<polyline points="382.59999999999997,105.7 390.4,35.2 400.5,105.7" fill="none" stroke="#2e6b34" stroke-width="1.9" stroke-miterlimit="3"/><circle cx="390.4" cy="33.2" r="2.3" fill="#3a7bcc"/>
</svg>
</body></html>
